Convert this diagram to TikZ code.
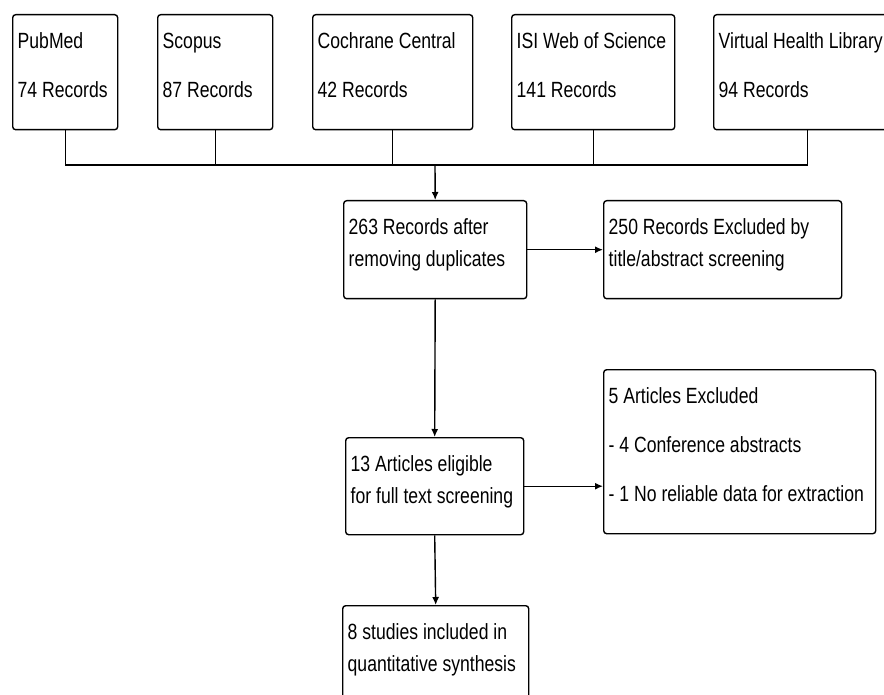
\documentclass[tikz,border=0pt]{standalone}
\usepackage{fontspec}
\setmainfont{Liberation Sans}[FakeStretch=0.80]
\usetikzlibrary{arrows.meta}

\begin{document}
\begin{tikzpicture}[
			x=1pt,y=-1pt,
			line width=1.4pt,
			font=\fontsize{22}{32}\selectfont,
			box/.style={rectangle,draw,rounded corners=3pt,anchor=north west,align=flush left,
				inner xsep=5pt,inner ysep=0pt,text height=34pt},
			arr/.style={-{Latex[length=8pt,width=7pt]}},
			]
			\useasboundingbox (0,0) rectangle (884,695);
			\clip (0,0) rectangle (884,695);
			% databases
			\node [box,text width=95pt,text depth=81pt] (pubmed) at (12,14) {PubMed\\[17pt]74 Records};
			\node [box,text width=105pt,text depth=81pt] (scopus) at (157,14) {Scopus\\[17pt]87 Records};
			\node [box,text width=150pt,text depth=81pt] (cochrane) at (312,14) {Cochrane Central\\[17pt]42 Records};
			\node [box,text width=153pt,text depth=81pt] (isi) at (511,14) {ISI Web of Science\\[17pt]141 Records};
			\node [box,text width=177pt,text depth=81pt] (vhl) at (713,14) {Virtual Health Library\\[17pt]94 Records};
			% screening
			\node [box,text width=173pt,text depth=64pt] (dedup) at (343,200) {263 Records after\\removing duplicates};
			\node [box,text width=228pt,text depth=64pt] (titleexcl) at (603,200) {250 Records Excluded by\\title/abstract screening};
			\node [box,text width=168pt,text depth=63pt] (eligible) at (345,437) {13 Articles eligible\\for full text screening};
			\node [box,text width=262pt,text depth=130pt] (fullexcl) at (603,369) {5 Articles Excluded\\[17pt]- 4 Conference abstracts\\[17pt]- 1 No reliable data for extraction};
			\node [box,text width=176pt,text depth=64pt] (included) at (342,605) {8 studies included in\\quantitative synthesis};
			% connectors
			\coordinate (bus) at (435,165);
			\draw (pubmed.south) |- (bus) -| (vhl.south);
			\foreach \src in {scopus,cochrane,isi}
				\draw (\src.south) -- (\src.south |- bus);
			\draw [arr] (bus) -- (dedup.north);
			\draw [arr] (dedup.east) -- (titleexcl.west);
			\draw [arr] (dedup.south) -- (eligible.north);
			\draw [arr] (eligible.east) -- (eligible.east -| fullexcl.west);
			\draw [arr] (eligible.south) -- (included.north);
		\end{tikzpicture}
\end{document}
